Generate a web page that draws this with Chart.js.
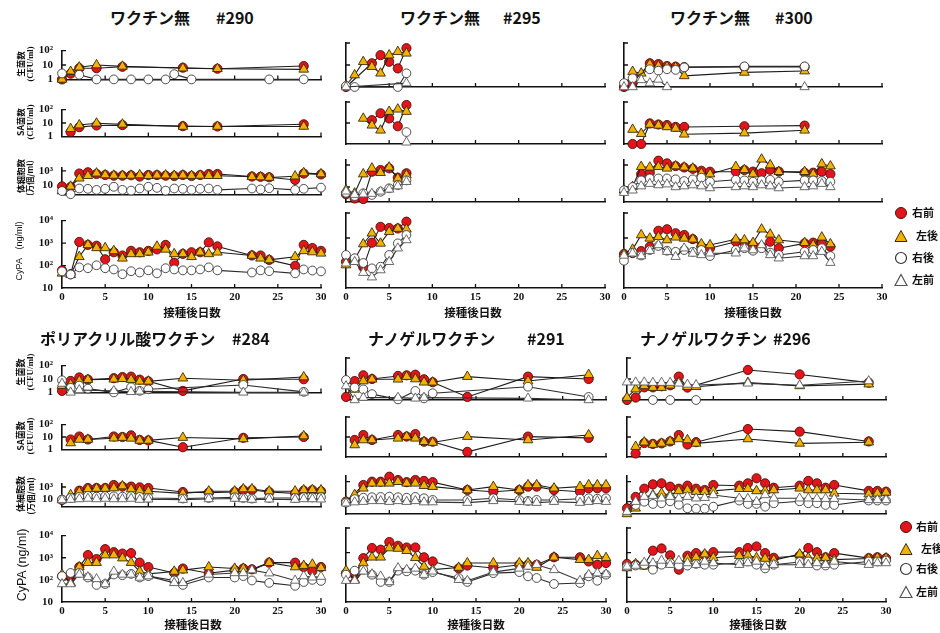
<!DOCTYPE html>
<html>
<head>
<meta charset="utf-8">
<script src="https://cdn.jsdelivr.net/npm/chart.js@4.4.1/dist/chart.umd.min.js"></script>
<style>
body { margin: 0; width: 940px; height: 633px; position: relative; overflow: hidden; background: #fff; font-family: "Noto Sans CJK JP", sans-serif; color: #111; }
canvas { position: absolute; }
.ttl { position: absolute; font: bold 16px/1 "Noto Sans CJK JP", sans-serif; white-space: nowrap; }
.rot { position: absolute; transform: translate(-50%, -50%) rotate(-90deg); white-space: nowrap; line-height: 1; }
.jp { font-family: "Noto Sans CJK JP", sans-serif; font-weight: bold; }
.sf { font-family: "Liberation Serif", "DejaVu Serif", serif; font-weight: bold; }
.xt { position: absolute; transform: translate(-50%, -50%); font: bold 11.5px/1 "Noto Sans CJK JP", sans-serif; white-space: nowrap; }
.lg { position: absolute; font: bold 11px/1 "Noto Sans CJK JP", sans-serif; white-space: nowrap; }
.mk { position: absolute; width: 14px; height: 14px; }
</style>
</head>
<body>
<script>
// ---- Data (days after inoculation) ----
// keys: rf = 右前 (red circle), lr = 左後 (yellow triangle), rr = 右後 (white circle), lf = 左前 (white triangle)

// #290 ワクチン無
const days290Cfu = [0, 1, 2, 4, 6, 7, 8, 10, 12, 13, 14, 15, 18, 24, 28];
const rf290Cfu = [1, 2.5, 6, 6, null, 7.5, null, null, null, null, 6.5, null, 5.5, null, 8.5];
const lr290Cfu = [1, 3.5, 7, 10, null, 8, null, null, null, null, 6, null, 5.5, null, 5];
const rr290Cfu = [2.6, null, 2.1, 1, 1, null, 1, 1, 1, 2.3, null, 1, null, 1, 1];

const days290Sa = [1, 2, 4, 7, 14, 18, 28];
const rf290Sa = [2.1, 4.9, 6.5, 7, 5.8, 5.5, 8];
const lr290Sa = [3.7, 7, 9.5, 8, 5.5, 5.5, 5.5];

const days290Sc = [0, 1, 2, 3, 4, 5, 6, 7, 8, 9, 10, 11, 12, 13, 14, 15, 16, 17, 18, 22, 23, 24, 27, 28, 30];
const rf290Sc = [6, 5, 410, 620, 350, 250, 200, 200, 230, 150, 250, 250, 200, 180, 250, 180, 250, 350, 350, 150, 140, 120, 50, 400, 300];
const lr290Sc = [1.3, 6, 87, 200, 450, 250, 220, 210, 220, 250, 200, 230, 240, 210, 230, 200, 220, 200, 200, 140, 130, 110, 170, 500, 350];
const rr290Sc = [1.3, 0.46, 3, 2.7, 1.9, 2.7, 5.3, 1.9, 1.5, 3, 5.3, 3.7, 1.5, 3, 2.7, 1.9, 2.7, 3, 1.9, 3, 2.2, 3.3, 1.9, 2.7, 4];

const days290Cy = [0, 1, 2, 3, 4, 5, 6, 7, 8, 9, 10, 11, 12, 13, 14, 15, 16, 17, 18, 22, 23, 24, 27, 28, 29, 30];
const rf290Cy = [61, 41, 1120, 830, 760, 190, 390, 280, 450, 390, 450, 525, 830, 132, 330, 390, 390, 1070, 710, 280, 280, 178, 97, 830, 600, 450];
const lr290Cy = [45, 39, 245, 830, 610, 610, 450, 210, 330, 330, 390, 710, 525, 330, 330, 245, 390, 330, 390, 280, 210, 178, 245, 450, 400, 350];
const rr290Cy = [55, 40, 83, 76, 103, 76, 67, 41, 56, 49, 61, 45, 76, 67, 61, 61, 67, 83, 61, 49, 61, 56, 45, 67, 60, 55];

// #295 ワクチン無
const days295Cfu = [0, 1, 2, 3, 4, 5, 6, 7];
const rf295Cfu = [1, null, null, 12, 28, 14, 7, 58];
const lr295Cfu = [1.2, 3.5, 14, 8.4, 4.2, 28, 40, 34];
const rr295Cfu = [1.1, 1, null, null, null, null, 1, 4.2];
const lf295Cfu = [1, null, null, null, null, null, null, 1.5];

const days295Sa = [2, 3, 4, 5, 6, 7];
const rf295Sa = [null, 13.7, 29, 16.5, 7, 72];
const lr295Sa = [16.5, 7.8, 4.5, 35, 45, 35];
const rr295Sa = [null, null, null, null, null, 3.7];
const lf295Sa = [null, null, null, null, null, 1.2];

const days295Sc = [0, 1, 2, 3, 4, 5, 6, 7];
const rf295Sc = [2.2, 0.9, 0.8, 245, 350, 500, 70, 178];
const lr295Sc = [5.3, 2.7, 150, 500, 200, 620, 61, 123];
const rr295Sc = [3, 1.5, 2.7, 1.9, 3.7, 7.6, 15, 40];
const lf295Sc = [4, 2, 2.2, 2.5, 4, 6, 12, 30];

const days295Cy = [0, 1, 2, 3, 4, 5, 6, 7];
const rf295Cy = [112, 132, 67, 650, 2800, 2500, 2400, 4500];
const lr295Cy = [83, 141, 575, 1550, 610, 1780, 2400, 2240];
const rr295Cy = [210, 155, 100, 61, 71, 210, 610, 1320];
const lf295Cy = [97, 112, 41, 27, 52, 112, 390, 830];

// #300 ワクチン無
const days300Cfu = [0, 1, 2, 3, 4, 5, 6, 7, 14, 21];
const rf300Cfu = [1, 1.5, null, 12, 11, 9, 8.4, 8, 8.2, 8.2];
const lr300Cfu = [1, 5, 4.2, 10.8, 9, 8.4, 7.8, 3.2, 4.6, 5.3];
const rr300Cfu = [1.5, 2.5, null, 6.4, 5.5, 6.4, 6, 7.8, 8.7, 8.7];
const lf300Cfu = [1, 1, 2.1, 1.5, 2.2, 1, null, null, null, 1];

const days300Sa = [1, 2, 3, 4, 5, 6, 7, 14, 21];
const rf300Sa = [1, 1, 9.5, 8.5, 8, 6.5, 6.5, 7, 7.5];
const lr300Sa = [4.9, 3.1, 8.5, 7.7, 6.5, 5.5, 2.9, 3.3, 4.5];

const days300Sc = [0, 1, 2, 3, 4, 5, 6, 7, 8, 9, 10, 13, 14, 15, 16, 17, 18, 21, 22, 23, 24];
const rf300Sc = [null, null, 150, 200, 2460, 1400, 800, 600, 450, 300, 245, 245, 350, 250, 178, 370, 250, 200, 200, 245, 150];
const lr300Sc = [5, 10.6, 700, 620, 700, 500, 800, 620, 500, 178, 150, 700, 370, 150, 3300, 1000, 245, 245, 150, 1230, 800];
const rr300Sc = [5, 10, 40, 60, 60, 60, 50, 35, 50, 70, 30, 45, 40, 30, 40, 45, 30, 40, 40, 35, 30];
const lf300Sc = [3, 5, 12, 20, 15, 18, 10, 12, 15, 12, 8, 10, 12, 10, 15, 12, 8, 10, 12, 20, 10];

const days300Cy = [0, 1, 2, 3, 4, 5, 6, 7, 8, 9, 10, 13, 14, 15, 16, 17, 18, 21, 22, 23, 24];
const rf300Cy = [230, 250, 300, 450, 1950, 2240, 1550, 1320, 900, 450, 390, 710, 610, 525, 450, 710, 390, 610, 650, 610, 450];
const lr300Cy = [230, 350, 1320, 970, 1120, 830, 1070, 970, 890, 575, 525, 890, 830, 650, 2240, 1400, 830, 650, 525, 1070, 575];
const rr300Cy = [123, 260, 200, 330, 480, 310, 280, 330, 280, 330, 190, 330, 390, 310, 390, 260, 210, 283, 330, 390, 190];
const lf300Cy = [200, 245, 190, 310, 525, 283, 178, 390, 240, 210, 245, 245, 390, 330, 525, 210, 155, 190, 190, 283, 103];

// #284 ポリアクリル酸ワクチン
const days284Cfu = [0, 1, 2, 3, 6, 7, 8, 9, 10, 14, 21, 28];
const rf284Cfu = [1.3, 7.2, 13, 9, 11.5, 14, 15, 9, 6.7, 1.3, 10, 9.6];
const lr284Cfu = [3.2, 3.9, 7.2, 9, 9.6, 10.5, 9, 6.7, 6.7, 11.5, 8, 14];
const rr284Cfu = [8, 2.2, 3.2, 1.9, 1, null, 2.4, 1.3, 1.7, null, 3.6, 1.1];
const lf284Cfu = [4.6, 1, 1.5, null, 1.3, null, 1.1, 1.2, null, null, 1, 1];

const days284Sa = [1, 2, 3, 6, 7, 8, 9, 10, 14, 21, 28];
const rf284Sa = [6.3, 11, 6.3, 11, 10, 13.6, 5.8, 5.3, 1.5, 8.6, 10];
const lr284Sa = [3.3, 6.3, 6.3, 8, 9, 7.8, 5.3, 5.3, 9, 7, 12];

const days284Sc = [0, 1, 2, 3, 4, 5, 6, 7, 8, 9, 10, 14, 17, 20, 21, 22, 24, 27, 28, 29, 30];
const rf284Sc = [7, null, 250, 690, 690, 690, 2180, 1170, 1170, 870, 690, 148, 117, 148, 320, 320, 148, 87, 250, 300, 200];
const lr284Sc = [7, 50, 148, 470, 560, 560, 690, 1450, 470, 250, 200, 87, 200, 200, 470, 470, 200, 200, 320, 350, 300];
const rr284Sc = [8, 15, 22, 32, 25, 30, 28, 25, 30, 22, 15, 12, 15, 20, 15, 12, 15, 15, 20, 18, 20];
const lf284Sc = [7, 8, 10, 12, 10, 12, 10, 10, 12, 8, 9, 8, 10, 12, 10, 8, 9, 8, 10, 10, 9];

const days284Cy = [0, 1, 2, 3, 4, 5, 6, 7, 8, 9, 10, 13, 14, 17, 20, 21, 22, 24, 27, 28, 29, 30];
const rf284Cy = [148, 128, 380, 1320, 870, 2450, 1780, 1540, 1620, 600, 380, 205, 325, 200, 275, 325, 300, 600, 600, 380, 250, 380];
const lr284Cy = [175, 73, 380, 600, 600, 1320, 1320, 960, 600, 240, 186, 240, 275, 380, 325, 325, 275, 600, 380, 440, 500, 350];
const rr284Cy = [148, 205, 205, 128, 59, 65, 175, 163, 186, 128, 148, 94, 59, 128, 128, 148, 94, 73, 54, 80, 100, 90];
const lf284Cy = [65, 65, 175, 135, 110, 65, 240, 175, 175, 128, 148, 73, 73, 175, 205, 205, 275, 200, 94, 148, 130, 140];

// #291 ナノゲルワクチン
const days291Cfu = [0, 1, 2, 3, 6, 7, 8, 9, 10, 14, 21, 28];
const rf291Cfu = [1.4, 8, 15, 10, 14, 15, 16, 9.7, 7, 1.4, 13, 10];
const lr291Cfu = [null, 3.2, 8, 9.7, 9.7, 13, 10, 7, 7, 13, 8, 16];
const rr291Cfu = [9, 3.9, 3.2, 1.9, 1.07, null, 2.7, 1.2, 2.1, null, 4.3, 1.4];
const lf291Cfu = [4.6, 1, 1.3, null, 1.3, null, 1.2, 1.3, null, null, 1.2, 1];

const days291Sa = [1, 2, 3, 6, 7, 8, 9, 10, 14, 21, 28];
const rf291Sa = [7.1, 12.6, 7.1, 12.6, 10.5, 14, 5.8, 5.8, 1.8, 10.5, 9];
const lr291Sa = [4, 7.1, 7.1, 8.6, 10.5, 8.6, 5.8, 5.3, 10.5, 7.1, 12.6];

const days291Sc = [0, 1, 2, 3, 4, 5, 6, 7, 8, 9, 10, 14, 17, 20, 21, 22, 24, 27, 28, 29, 30];
const rf291Sc = [10, null, 470, 1000, 1000, 3160, 1480, 900, 1480, 1200, 900, 148, 100, 148, 320, 320, 148, 100, 220, 220, 220];
const lr291Sc = [10, 50, 220, 690, 690, 690, 1000, 690, 690, 400, 320, 148, 320, 148, 470, 470, 220, 320, 470, 470, 470];
const rr291Sc = [8, 18, 25, 28, 30, 32, 28, 25, 30, 22, 15, 15, 22, 15, 12, 15, 15, 20, 22, 20, 22];
const lf291Sc = [7, 9, 10, 12, 12, 10, 12, 10, 12, 9, 9, 8, 12, 10, 9, 8, 10, 8, 10, 12, 10];

const days291Cy = [0, 1, 2, 3, 4, 5, 6, 7, 8, 9, 10, 13, 14, 17, 20, 21, 22, 24, 27, 28, 29, 30];
const rf291Cy = [148, 128, 600, 1540, 1320, 2700, 1900, 1620, 1620, 650, 440, 230, 300, 240, 325, 325, 325, 650, 650, 440, 325, 380];
const lr291Cy = [186, 80, 380, 650, 650, 1540, 1480, 1200, 620, 275, 205, 250, 380, 380, 380, 380, 250, 650, 520, 520, 750, 620];
const rr291Cy = [128, 186, 205, 128, 65, 65, 186, 175, 186, 128, 163, 94, 65, 148, 163, 110, 94, 54, 59, 110, 73, 128];
const lf291Cy = [73, 73, 175, 135, 110, 65, 240, 205, 230, 128, 175, 80, 73, 163, 230, 275, 325, 200, 73, 128, 148, 135];

// #296 ナノゲルワクチン
const days296Cfu = [0, 1, 2, 3, 4, 5, 6, 7, 8, 14, 20, 28];
const rf296Cfu = [1, 1.3, 4, 4, 4.5, 5, 13, 3.9, null, 27, 16.5, 6.7];
const lr296Cfu = [1.3, 3.3, 4.7, 3.9, 3.9, 5, 7, 4.3, 4.3, 6.7, 4.7, 5.7];
const rr296Cfu = [null, null, null, 1, null, 1, null, null, 1, null, null, null];
const lf296Cfu = [7, 7, 7, 6.7, 6.7, 6.7, 6.2, 5.5, 5.2, 6.2, 5, 8];

const days296Sa = [1, 2, 3, 4, 5, 6, 7, 8, 14, 20, 28];
const rf296Sa = [1.5, 5, 4.5, 4.8, 6, 12.6, 4.2, 5.5, 25, 18.5, 6];
const lr296Sa = [3.3, 5.5, 4.2, 4.8, 6, 8, 7.1, 4.8, 8, 4.8, 5.5];

const days296Sc = [0, 1, 2, 3, 4, 5, 6, 7, 8, 9, 10, 13, 14, 15, 16, 17, 20, 21, 22, 23, 24, 28, 29, 30];
const rf296Sc = [2.2, 30, 200, 540, 690, 320, 200, 400, 200, 148, 470, 400, 690, 2190, 690, 250, 400, 1200, 690, 250, 470, 120, 120, 100];
const lr296Sc = [0.6, 2.2, 22, 47, 69, 47, 120, 148, 100, 100, 120, 200, 200, 120, 120, 148, 220, 148, 148, 148, 69, 58, 69, 85];
const rr296Sc = [null, 4.7, 10, 6, 7, 11, 5, 2.2, 2, 2, 3.2, 13, 6, 6, 3.2, 7, 11, 7, 7, 4.7, 4.7, 13, 13, 13];
const lf296Sc = [1, 10, 32, 40, 22, 32, 22, 32, 22, 25, 47, 22, 20, 10, 47, 22, 22, 22, 20, 20, 20, 15, 15, 15];

const days296Cy = [0, 1, 2, 3, 4, 5, 6, 7, 8, 9, 10, 13, 14, 15, 16, 17, 20, 21, 22, 23, 24, 28, 29, 30];
const rf296Cy = [350, 325, 325, 1200, 1480, 780, 205, 750, 960, 780, 1050, 1050, 1540, 1780, 960, 620, 750, 1540, 1050, 650, 960, 600, 650, 600];
const lr296Cy = [240, 350, 280, 300, 350, 440, 400, 580, 650, 870, 620, 750, 780, 620, 580, 500, 870, 620, 600, 620, 520, 580, 620, 600];
const rr296Cy = [275, 300, 325, 205, 325, 380, 300, 300, 350, 325, 325, 380, 440, 325, 230, 325, 420, 440, 300, 300, 325, 440, 440, 480];
const lf296Cy = [275, 300, 400, 380, 480, 325, 480, 380, 325, 440, 380, 325, 380, 440, 275, 325, 325, 325, 380, 325, 440, 325, 380, 380];

// Tick labels
const dayTicks = [0, 5, 10, 15, 20, 25, 30];
const cfuTicks = [1, 10, 100];
const cfuLabels = ['1', '10', '10²'];
const scTicks = [10, 1000];
const scLabels = ['10', '10³'];
const cyTicks = [10, 100, 1000, 10000];
const cyLabels = ['10', '10²', '10³', '10⁴'];

// ---- Layout (page pixels) ----
const colsTop = { L: [62, 321], M: [346, 605], R: [624, 882] };
const colsBot = { L: [62, 321], M: [346, 606], R: [627, 886] };
// [top px, bottom px, log10 at top... ] -> [top, bottom, log min, log max]
const rowsTop = { cfu: [43, 87, 0, 2], sa: [102, 144, 0, 2], sc: [160, 202, -0.364, 3.455], cy: [213, 288, 1, 4] };
const rowsBot = { cfu: [358, 400, 0, 2], sa: [417, 457, 0, 2], sc: [476, 514, -0.23, 3.57], cy: [528, 602, 1, 4] };

const tickSets = {
    cfu: [cfuTicks, cfuLabels],
    sa: [cfuTicks, cfuLabels],
    sc: [scTicks, scLabels],
    cy: [cyTicks, cyLabels]
};

const STYLE = {
    rf: { pointStyle: 'circle', pointRadius: 4.6, pointBackgroundColor: '#e3141b', pointBorderColor: '#4a1208', borderColor: '#1c1c1c' },
    lr: { pointStyle: 'triangle', pointRadius: 5.6, pointBackgroundColor: '#f3b200', pointBorderColor: '#3b2a05', borderColor: '#1c1c1c' },
    rr: { pointStyle: 'circle', pointRadius: 4.4, pointBackgroundColor: '#ffffff', pointBorderColor: '#3a3a3a', borderColor: '#2a2a2a' },
    lf: { pointStyle: 'triangle', pointRadius: 5.4, pointBackgroundColor: '#ffffff', pointBorderColor: '#5a5a5a', borderColor: '#333333' }
};

Chart.defaults.font.family = '"Liberation Serif", "DejaVu Serif", serif';

// inward tick marks like the original axes
const innerTicks = {
    id: 'innerTicks',
    beforeDatasetsDraw(chart) {
        const { ctx, chartArea: a, scales: { x, y } } = chart;
        ctx.save();
        ctx.strokeStyle = '#111';
        ctx.lineWidth = 1.3;
        ctx.beginPath();
        x.ticks.forEach(t => {
            if (t.value === 0) return;
            const px = x.getPixelForValue(t.value);
            ctx.moveTo(px, a.bottom);
            ctx.lineTo(px, a.bottom - 4);
        });
        y.ticks.forEach(t => {
            const py = y.getPixelForValue(t.value);
            if (Math.abs(py - a.bottom) < 2) return;
            ctx.moveTo(a.left, py);
            ctx.lineTo(a.left + 4, py);
        });
        ctx.stroke();
        ctx.restore();
    }
};

const pts = (days, vals) => {
    let out = [];
    days.forEach((d, i) => {
        if (vals[i] !== null && vals[i] !== undefined) out.push({ x: d, y: vals[i] });
    });
    return out;
};

const makeChart = (col, row, kind, days, series, showY, showX) => {
    let [x0, x30] = col;
    let [top, bot, lo, hi] = row;
    let [tickVals, tickLabels] = tickSets[kind];
    let YW = showY ? 44 : 10, PT = 8, PR = 12, XH = showX ? 22 : 8;
    let W = (x30 - x0) + YW + PR, H = (bot - top) + PT + XH;

    let cv = document.createElement('canvas');
    cv.width = W;
    cv.height = H;
    cv.style.left = (x0 - YW) + 'px';
    cv.style.top = (top - PT) + 'px';
    cv.style.width = W + 'px';
    cv.style.height = H + 'px';
    document.body.appendChild(cv);

    let datasets = ['lf', 'rr', 'lr', 'rf'].filter(k => series[k]).map(k => ({
        data: pts(days, series[k]),
        ...STYLE[k],
        borderWidth: 1.1,
        pointBorderWidth: 0.9,
        fill: false,
        tension: 0,
        clip: false,
        spanGaps: true
    }));

    new Chart(cv, {
        type: 'line',
        data: { datasets: datasets },
        plugins: [innerTicks],
        options: {
            responsive: false,
            animation: false,
            devicePixelRatio: 1,
            layout: { padding: { top: PT, right: PR, bottom: 0, left: 0 } },
            plugins: { legend: { display: false }, tooltip: { enabled: false } },
            scales: {
                x: {
                    type: 'linear',
                    min: 0,
                    max: 30,
                    afterFit: s => { s.height = XH; },
                    afterBuildTicks: s => { s.ticks = dayTicks.map(v => ({ value: v })); },
                    ticks: { display: showX, padding: 3, maxRotation: 0, autoSkip: false, color: '#111', font: { size: 11, weight: 'bold' } },
                    grid: { display: false, drawTicks: false },
                    border: { display: true, color: '#111', width: 1.6 }
                },
                y: {
                    type: 'logarithmic',
                    min: Math.pow(10, lo),
                    max: Math.pow(10, hi),
                    afterFit: s => { s.width = YW; },
                    afterBuildTicks: s => { s.ticks = tickVals.map(v => ({ value: v })); },
                    ticks: {
                        display: showY,
                        padding: 9,
                        color: '#111',
                        font: { size: 11, weight: 'bold' },
                        callback: v => tickLabels[tickVals.indexOf(v)]
                    },
                    grid: { display: false, drawTicks: false },
                    border: { display: true, color: '#111', width: 1.6 }
                }
            }
        }
    });
};

// ---- Top row ----
makeChart(colsTop.L, rowsTop.cfu, 'cfu', days290Cfu, { rf: rf290Cfu, lr: lr290Cfu, rr: rr290Cfu }, true, false);
makeChart(colsTop.L, rowsTop.sa, 'sa', days290Sa, { rf: rf290Sa, lr: lr290Sa }, true, false);
makeChart(colsTop.L, rowsTop.sc, 'sc', days290Sc, { rf: rf290Sc, lr: lr290Sc, rr: rr290Sc }, true, false);
makeChart(colsTop.L, rowsTop.cy, 'cy', days290Cy, { rf: rf290Cy, lr: lr290Cy, rr: rr290Cy }, true, true);

makeChart(colsTop.M, rowsTop.cfu, 'cfu', days295Cfu, { rf: rf295Cfu, lr: lr295Cfu, rr: rr295Cfu, lf: lf295Cfu }, false, false);
makeChart(colsTop.M, rowsTop.sa, 'sa', days295Sa, { rf: rf295Sa, lr: lr295Sa, rr: rr295Sa, lf: lf295Sa }, false, false);
makeChart(colsTop.M, rowsTop.sc, 'sc', days295Sc, { rf: rf295Sc, lr: lr295Sc, rr: rr295Sc, lf: lf295Sc }, false, false);
makeChart(colsTop.M, rowsTop.cy, 'cy', days295Cy, { rf: rf295Cy, lr: lr295Cy, rr: rr295Cy, lf: lf295Cy }, false, true);

makeChart(colsTop.R, rowsTop.cfu, 'cfu', days300Cfu, { rf: rf300Cfu, lr: lr300Cfu, rr: rr300Cfu, lf: lf300Cfu }, false, false);
makeChart(colsTop.R, rowsTop.sa, 'sa', days300Sa, { rf: rf300Sa, lr: lr300Sa }, false, false);
makeChart(colsTop.R, rowsTop.sc, 'sc', days300Sc, { rf: rf300Sc, lr: lr300Sc, rr: rr300Sc, lf: lf300Sc }, false, false);
makeChart(colsTop.R, rowsTop.cy, 'cy', days300Cy, { rf: rf300Cy, lr: lr300Cy, rr: rr300Cy, lf: lf300Cy }, false, true);

// ---- Bottom row ----
makeChart(colsBot.L, rowsBot.cfu, 'cfu', days284Cfu, { rf: rf284Cfu, lr: lr284Cfu, rr: rr284Cfu, lf: lf284Cfu }, true, false);
makeChart(colsBot.L, rowsBot.sa, 'sa', days284Sa, { rf: rf284Sa, lr: lr284Sa }, true, false);
makeChart(colsBot.L, rowsBot.sc, 'sc', days284Sc, { rf: rf284Sc, lr: lr284Sc, rr: rr284Sc, lf: lf284Sc }, true, false);
makeChart(colsBot.L, rowsBot.cy, 'cy', days284Cy, { rf: rf284Cy, lr: lr284Cy, rr: rr284Cy, lf: lf284Cy }, true, true);

makeChart(colsBot.M, rowsBot.cfu, 'cfu', days291Cfu, { rf: rf291Cfu, lr: lr291Cfu, rr: rr291Cfu, lf: lf291Cfu }, false, false);
makeChart(colsBot.M, rowsBot.sa, 'sa', days291Sa, { rf: rf291Sa, lr: lr291Sa }, false, false);
makeChart(colsBot.M, rowsBot.sc, 'sc', days291Sc, { rf: rf291Sc, lr: lr291Sc, rr: rr291Sc, lf: lf291Sc }, false, false);
makeChart(colsBot.M, rowsBot.cy, 'cy', days291Cy, { rf: rf291Cy, lr: lr291Cy, rr: rr291Cy, lf: lf291Cy }, false, true);

makeChart(colsBot.R, rowsBot.cfu, 'cfu', days296Cfu, { rf: rf296Cfu, lr: lr296Cfu, rr: rr296Cfu, lf: lf296Cfu }, false, false);
makeChart(colsBot.R, rowsBot.sa, 'sa', days296Sa, { rf: rf296Sa, lr: lr296Sa }, false, false);
makeChart(colsBot.R, rowsBot.sc, 'sc', days296Sc, { rf: rf296Sc, lr: lr296Sc, rr: rr296Sc, lf: lf296Sc }, false, false);
makeChart(colsBot.R, rowsBot.cy, 'cy', days296Cy, { rf: rf296Cy, lr: lr296Cy, rr: rr296Cy, lf: lf296Cy }, false, true);
</script>

<!-- Titles -->
<div class="ttl" style="left:110px;top:9px">ワクチン無</div><div class="ttl" style="left:216px;top:9px">#290</div>
<div class="ttl" style="left:400px;top:9px">ワクチン無</div><div class="ttl" style="left:503px;top:9px">#295</div>
<div class="ttl" style="left:670px;top:9px">ワクチン無</div><div class="ttl" style="left:775px;top:9px">#300</div>
<div class="ttl" style="left:40px;top:330px">ポリアクリル酸ワクチン</div><div class="ttl" style="left:232px;top:330px">#284</div>
<div class="ttl" style="left:368px;top:330px">ナノゲルワクチン</div><div class="ttl" style="left:527px;top:330px">#291</div>
<div class="ttl" style="left:640px;top:330px">ナノゲルワクチン</div><div class="ttl" style="left:773px;top:330px">#296</div>

<!-- Y axis titles, top row -->
<div class="rot jp" style="left:20px;top:64px;font-size:8.5px">生菌数</div>
<div class="rot sf" style="left:30px;top:64px;font-size:8.5px">(CFU/ml)</div>
<div class="rot jp" style="left:20px;top:122px;font-size:8.5px">SA菌数</div>
<div class="rot sf" style="left:30px;top:122px;font-size:8.5px">(CFU/ml)</div>
<div class="rot jp" style="left:20px;top:176px;font-size:8.5px">体細胞数</div>
<div class="rot jp" style="left:30px;top:178px;font-size:8px">(万個/ml)</div>
<div class="rot" style="left:19px;top:251px;font-size:9px;font-family:'Liberation Sans',sans-serif">CyPA　(ng/ml)</div>

<!-- Y axis titles, bottom row -->
<div class="rot jp" style="left:20px;top:372px;font-size:9px">生菌数</div>
<div class="rot sf" style="left:30px;top:372px;font-size:9px">(CFU/ml)</div>
<div class="rot jp" style="left:20px;top:436px;font-size:9px">SA菌数</div>
<div class="rot sf" style="left:30px;top:436px;font-size:9px">(CFU/ml)</div>
<div class="rot jp" style="left:20px;top:494px;font-size:9px">体細胞数</div>
<div class="rot jp" style="left:30px;top:496px;font-size:8.5px">(万個/ml)</div>
<div class="rot" style="left:22px;top:565px;font-size:12.5px;font-family:'Liberation Sans',sans-serif">CyPA (ng/ml)</div>

<!-- X axis titles -->
<div class="xt" style="left:192px;top:313px">接種後日数</div>
<div class="xt" style="left:473px;top:313px">接種後日数</div>
<div class="xt" style="left:753px;top:313px">接種後日数</div>
<div class="xt" style="left:193px;top:625px">接種後日数</div>
<div class="xt" style="left:476px;top:625px">接種後日数</div>
<div class="xt" style="left:758px;top:625px">接種後日数</div>

<!-- Legends -->
<svg class="mk" style="left:894px;top:206px"><circle cx="7" cy="7" r="5.5" fill="#e3141b" stroke="#4a1208" stroke-width="1"/></svg>
<div class="lg" style="left:912px;top:207px">右前</div>
<svg class="mk" style="left:894px;top:229px"><polygon points="7,1.5 13,12.5 1,12.5" fill="#f3b200" stroke="#3b2a05" stroke-width="1"/></svg>
<div class="lg" style="left:916px;top:230px">左後</div>
<svg class="mk" style="left:894px;top:251px"><circle cx="7" cy="7" r="5.5" fill="#fff" stroke="#333" stroke-width="1.2"/></svg>
<div class="lg" style="left:912px;top:252px">右後</div>
<svg class="mk" style="left:894px;top:273px"><polygon points="7,1.5 13,12.5 1,12.5" fill="#fff" stroke="#555" stroke-width="1.2"/></svg>
<div class="lg" style="left:912px;top:274px">左前</div>

<svg class="mk" style="left:899px;top:520px"><circle cx="7" cy="7" r="5.5" fill="#e3141b" stroke="#4a1208" stroke-width="1"/></svg>
<div class="lg" style="left:916px;top:521px">右前</div>
<svg class="mk" style="left:899px;top:542px"><polygon points="7,1.5 13,12.5 1,12.5" fill="#f3b200" stroke="#3b2a05" stroke-width="1"/></svg>
<div class="lg" style="left:921px;top:543px">左後</div>
<svg class="mk" style="left:899px;top:562px"><circle cx="7" cy="7" r="5.5" fill="#fff" stroke="#333" stroke-width="1.2"/></svg>
<div class="lg" style="left:916px;top:563px">右後</div>
<svg class="mk" style="left:899px;top:585px"><polygon points="7,1.5 13,12.5 1,12.5" fill="#fff" stroke="#555" stroke-width="1.2"/></svg>
<div class="lg" style="left:916px;top:586px">左前</div>
</body>
</html>
